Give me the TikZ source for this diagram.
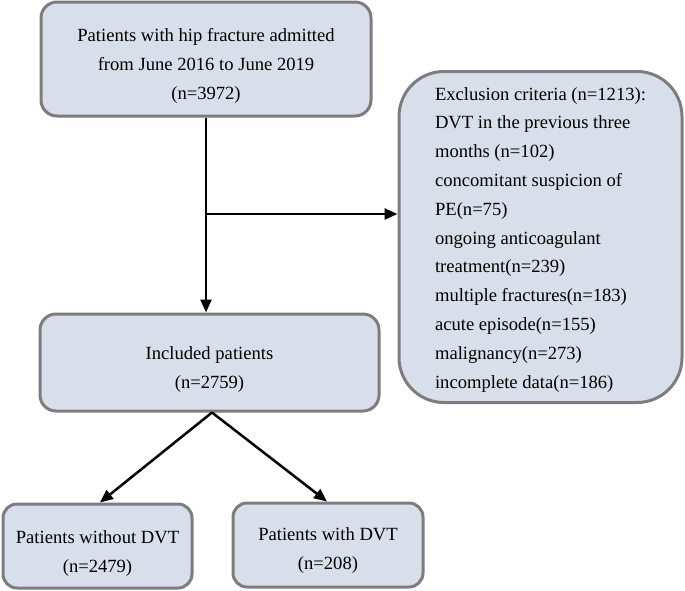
\documentclass[tikz,border=0pt]{standalone}
\usepackage{fontspec}
\setmainfont{Liberation Serif}
\usetikzlibrary{arrows.meta}
\definecolor{boxfill}{RGB}{217,222,235}
\definecolor{boxline}{RGB}{125,125,125}
\newcommand{\boxpad}{\rule{0pt}{27pt}}
\tikzset{
    flowbox/.style={draw=boxline, fill=boxfill, line width=3pt, rounded corners=16pt,
        align=center, inner sep=0pt, font=\fontsize{18.6}{29}\selectfont},
    flowarrow/.style={draw=black, line width=2.5pt,
        -{Triangle[length=13pt,width=11pt]}}
}
\begin{document}
\begin{tikzpicture}[x=1pt, y=-1pt]
            \useasboundingbox (0,0) rectangle (685,590);
            \node[flowbox, minimum width=330, minimum height=114] (admit) at (206, 59)
                {\boxpad Patients with hip fracture admitted\\ from June 2016 to June 2019\\ (n=3972)};
            \node[flowbox, minimum width=283, minimum height=331, rounded corners=45pt,
                align=left, font=\fontsize{18.6}{28.8}\selectfont] (excl) at (540.5, 237)
                {\rule{0pt}{18pt}Exclusion criteria (n=1213):\\ DVT in the previous three\\ months (n=102)\\
                 concomitant suspicion of\\ PE(n=75)\\ ongoing anticoagulant\\
                 treatment(n=239)\\ multiple fractures(n=183)\\ acute episode(n=155)\\
                 malignancy(n=273)\\ incomplete data(n=186)};
            \node[flowbox, minimum width=339, minimum height=97] (incl) at (209.5, 362.5)
                {\boxpad Included patients\\ (n=2759)};
            \node[flowbox, minimum width=189, minimum height=84, rounded corners=14pt] (nodvt) at (97.5, 546)
                {\boxpad Patients without DVT\\ (n=2479)};
            \node[flowbox, minimum width=190, minimum height=84, rounded corners=14pt] (dvt) at (328, 545)
                {\rule{0pt}{24pt}Patients with DVT\\ (n=208)};

            \coordinate (split) at (206, 214);
            \draw[flowarrow] (admit.south) -- (admit.south |- incl.north);
            \draw[flowarrow] (split) -- (split -| excl.west);
            \draw[flowarrow] ([xshift=2.5pt]incl.south) -- ([xshift=2.5pt]nodvt.north);
            \draw[flowarrow] ([xshift=2.5pt]incl.south) -- ([xshift=-1pt]dvt.north);
        \end{tikzpicture}
\end{document}
